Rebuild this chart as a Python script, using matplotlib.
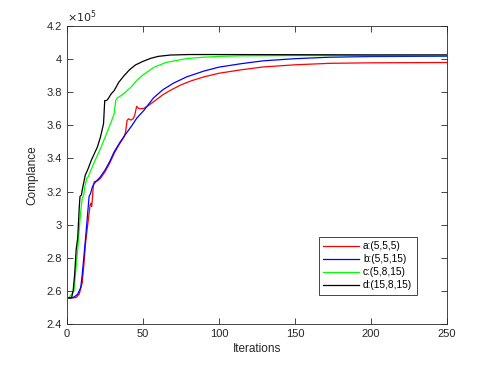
import numpy as np
import matplotlib
matplotlib.use('Agg')
import matplotlib.pyplot as plt

# compliance values in units of 1e5
it_a = [1, 3, 6, 8, 10, 11, 12.3, 14, 15.1, 15.6, 16.2, 16.6, 17.3, 18, 20, 22, 25, 28, 31, 34,
        37.5, 38.5, 39.5, 40.5, 42, 43.5, 44.5, 45.8, 47, 48.5, 50.6, 53.5, 58, 63, 68, 75, 82,
        90, 100, 114, 129, 150, 173, 200, 250]
val_a = [2.557, 2.557, 2.56, 2.58, 2.65, 2.75, 2.90, 3.03, 3.115, 3.13, 3.11, 3.15, 3.24, 3.26,
         3.265, 3.28, 3.32, 3.37, 3.43, 3.48, 3.53, 3.56, 3.63, 3.64, 3.632, 3.64, 3.66, 3.715,
         3.703, 3.70, 3.703, 3.72, 3.75, 3.785, 3.812, 3.845, 3.87, 3.893, 3.915, 3.935, 3.953,
         3.966, 3.975, 3.978, 3.98]

it_b = [1, 3, 5, 7, 9, 10, 11.2, 12.3, 13.3, 14.5, 15.5, 16.6, 18, 20, 22, 25, 28, 31, 35, 38,
        42, 46, 50.6, 56.8, 63, 70, 78.7, 90, 100, 114, 129, 150, 173, 200, 250]
val_b = [2.557, 2.557, 2.565, 2.58, 2.62, 2.7, 2.82, 2.93, 3.04, 3.17, 3.19, 3.226, 3.25, 3.27,
         3.29, 3.33, 3.38, 3.44, 3.50, 3.54, 3.59, 3.645, 3.691, 3.765, 3.815, 3.855, 3.893,
         3.928, 3.952, 3.972, 3.99, 4.003, 4.012, 4.016, 4.018]

it_c = [1, 3, 4.6, 6, 7, 8, 9, 10, 11, 11.6, 12.5, 13, 14, 15.6, 18, 22, 26, 29, 31, 32, 33, 34,
        37, 42, 46, 50, 57, 65, 79, 90, 101, 114, 150, 200, 250]
val_c = [2.557, 2.58, 2.6, 2.75, 2.85, 2.97, 3.08, 3.16, 3.18, 3.226, 3.26, 3.28, 3.29, 3.327,
         3.38, 3.46, 3.55, 3.62, 3.67, 3.75, 3.765, 3.77, 3.79, 3.83, 3.873, 3.905, 3.95, 3.98,
         4.004, 4.012, 4.017, 4.02, 4.022, 4.022, 4.022]

it_d = [1, 3, 4, 5, 6, 7, 8, 8.5, 9.5, 10, 12, 13.5, 16, 18, 20, 22, 24, 24.8, 26, 27, 29, 31,
        34, 37.5, 41, 45, 50, 55, 60, 68, 80, 100, 150, 200, 250]
val_d = [2.557, 2.56, 2.6, 2.7, 2.85, 2.92, 3.1, 3.17, 3.18, 3.21, 3.3, 3.33, 3.39, 3.43, 3.47,
         3.53, 3.61, 3.75, 3.75, 3.76, 3.79, 3.81, 3.86, 3.90, 3.935, 3.965, 3.987, 4.005, 4.017,
         4.025, 4.028, 4.028, 4.027, 4.026, 4.026]

labels = ['a:(5,5,5)', 'b:(5,5,15)', 'c:(5,8,15)', 'd:(15,8,15)']
colors = ['#ff0000', '#0000ff', '#00ff00', '#000000']

plt.rcParams['font.family'] = ['Arial', 'Liberation Sans', 'DejaVu Sans']
plt.rcParams['font.size'] = 8

fig = plt.figure(figsize=(4.79, 3.78), dpi=100)
ax = fig.add_axes([0.14, 0.143, 0.793, 0.788])

series = [(it_a, val_a), (it_b, val_b), (it_c, val_c), (it_d, val_d)]
for (x, y), lab, col in zip(series, labels, colors):
    ax.plot(x, y, color=col, lw=0.9, label=lab)

ax.set_xlim(0, 250)
ax.set_ylim(2.4, 4.2)
ax.set_xticks(np.arange(0, 251, 50))
ax.set_yticks(np.arange(2.4, 4.21, 0.2))
ax.set_yticklabels(['2.4', '2.6', '2.8', '3', '3.2', '3.4', '3.6', '3.8', '4', '4.2'])

gray = '#262626'
for s in ax.spines.values():
    s.set_color(gray)
    s.set_linewidth(0.6)
ax.tick_params(direction='in', length=4, width=0.6, top=True, right=True,
               colors=gray, labelcolor=gray, labelsize=8)

ax.set_xlabel('Iterations', color=gray, fontsize=8.5, labelpad=3)
ax.set_ylabel('Complance', color=gray, fontsize=8.5, labelpad=6)
ax.text(0.0, 1.005, r'$\times10^5$', transform=ax.transAxes, ha='left', va='bottom',
        color=gray, fontsize=8)

leg = ax.legend(loc='lower left', bbox_to_anchor=(0.663, 0.097), borderaxespad=0,
                fancybox=False, edgecolor=gray, framealpha=1, fontsize=7.3,
                handlelength=3.5, handletextpad=0.4, borderpad=0.45, labelspacing=0.3)
leg.get_frame().set_linewidth(0.6)

fig.savefig('out.png', dpi=100)
